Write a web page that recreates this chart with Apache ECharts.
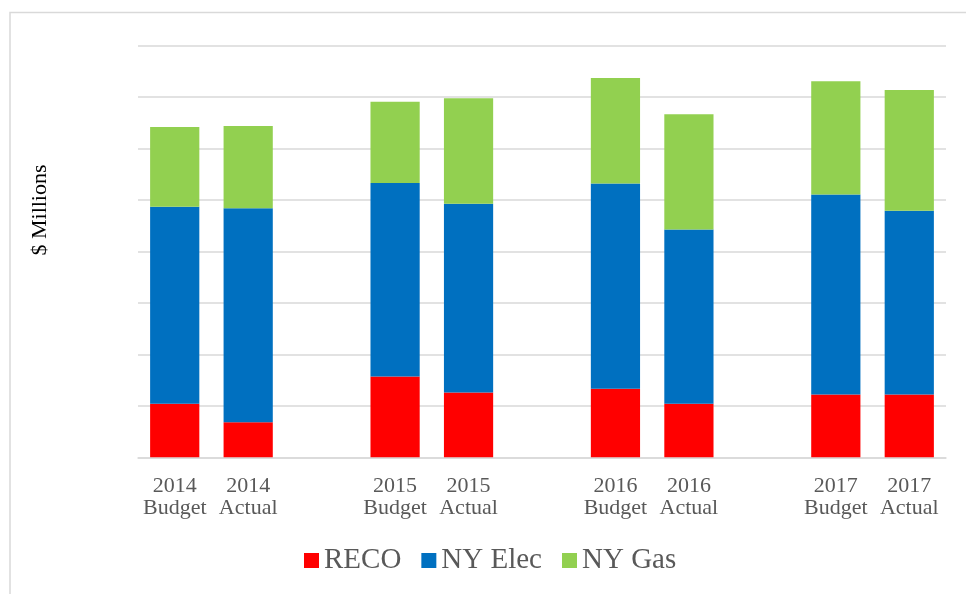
<!DOCTYPE html>
<html>
<head>
<meta charset="utf-8">
<script src="https://cdn.jsdelivr.net/npm/echarts@6/dist/echarts.min.js"></script>
<style>
  html, body { margin: 0; padding: 0; background: #fff; }
  #chart { width: 966px; height: 594px; }
</style>
</head>
<body>
<div id="chart"></div>
<script>
// bar labels, one per bar (gaps between years are added below)
var labels = ['2014\nBudget', '2014\nActual', '2015\nBudget', '2015\nActual',
  '2016\nBudget', '2016\nActual', '2017\nBudget', '2017\nActual'];
var reco = [104, 68, 157, 126, 133, 104, 122, 122];
var nyElec = [383, 416, 376, 367, 399, 339, 389, 357];
var nyGas = [155, 160, 158, 205, 205, 224, 220, 235];
var yTicks = [0, 100, 200, 300, 400, 500, 600, 700, 800];

// put an empty slot after every budget/actual pair
function withGaps(arr, blank) {
  var out = [];
  arr.forEach(function (v, i) {
    out.push(v);
    if (i % 2 === 1 && i < arr.length - 1) out.push(blank);
  });
  return out;
}

var textColor = '#595959';
var font = 'Liberation Serif, Times New Roman, serif';

function bar(name, data, color) {
  return {
    name: name,
    type: 'bar',
    stack: 'total',
    barCategoryGap: '33%',
    data: withGaps(data, '-'),
    itemStyle: { color: color }
  };
}

var chart = echarts.init(document.getElementById('chart'));
chart.setOption({
  animation: false,
  grid: { left: 138, right: 20, top: 45.7, bottom: 136.7 },
  legend: {
    left: 299,
    top: 541,
    itemWidth: 15,
    itemHeight: 15,
    itemGap: 20,
    icon: 'rect',
    textStyle: { color: textColor, fontFamily: font, fontSize: 29 },
    data: ['RECO', 'NY Elec', 'NY Gas']
  },
  xAxis: {
    type: 'category',
    data: withGaps(labels, ''),
    axisLine: { lineStyle: { color: '#d9d9d9', width: 1.5 } },
    axisTick: { show: false },
    axisLabel: {
      interval: 0,
      margin: 18,
      color: textColor,
      fontFamily: font,
      fontSize: 22,
      lineHeight: 22
    }
  },
  yAxis: {
    type: 'value',
    min: yTicks[0],
    max: yTicks[yTicks.length - 1],
    interval: yTicks[1] - yTicks[0],
    axisLabel: { show: false },
    axisLine: { show: false },
    axisTick: { show: false },
    splitLine: { lineStyle: { color: '#d9d9d9', width: 1.5 } }
  },
  graphic: [
    {
      type: 'rect',
      shape: { x: 10, y: 12.5, width: 1200, height: 1200 },
      style: { fill: 'none', stroke: '#d9d9d9', lineWidth: 1.5 },
      silent: true
    },
    {
      type: 'text',
      x: 40,
      y: 210,
      rotation: Math.PI / 2,
      style: {
        text: '$ Millions',
        fill: '#000',
        font: '22px ' + font,
        textAlign: 'center',
        textVerticalAlign: 'middle'
      }
    }
  ],
  series: [
    bar('RECO', reco, '#ff0000'),
    bar('NY Elec', nyElec, '#0070c0'),
    bar('NY Gas', nyGas, '#92d050')
  ]
});
</script>
</body>
</html>
